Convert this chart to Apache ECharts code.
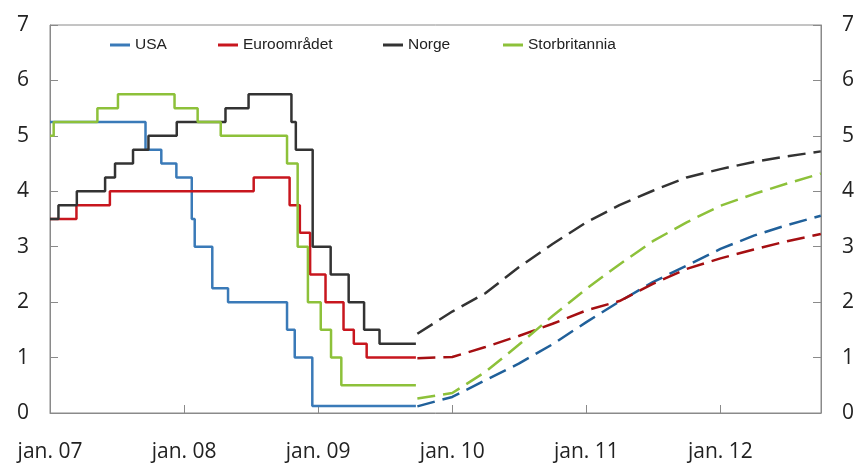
<!DOCTYPE html>
<html>
<head>
<meta charset="utf-8">
<script src="https://cdn.jsdelivr.net/npm/echarts@6/dist/echarts.min.js"></script>
<style>
  html, body { margin: 0; padding: 0; background: #fff; }
  #chart { width: 858px; height: 463px; }
</style>
</head>
<body>
<div id="chart"></div>
<script>
// policy rates, history (date of change, new rate)
const histEnd = '2009-09-24'

const usaDates = ['2007-01-01', '2007-09-18', '2007-10-31', '2007-12-11', '2008-01-22', '2008-01-30',
  '2008-03-18', '2008-04-30', '2008-10-08', '2008-10-29', '2008-12-16']
const usaRates = [5.25, 4.75, 4.5, 4.25, 3.5, 3.0, 2.25, 2.0, 1.5, 1.0, 0.125]

const euroDates = ['2007-01-01', '2007-03-14', '2007-06-13', '2008-07-09', '2008-10-15', '2008-11-12',
  '2008-12-10', '2009-01-21', '2009-03-11', '2009-04-08', '2009-05-13']
const euroRates = [3.5, 3.75, 4.0, 4.25, 3.75, 3.25, 2.5, 2.0, 1.5, 1.25, 1.0]

const norwayDates = ['2007-01-01', '2007-01-24', '2007-03-15', '2007-05-31', '2007-06-27', '2007-08-15',
  '2007-09-26', '2007-12-12', '2008-04-23', '2008-06-25', '2008-10-20', '2008-11-01', '2008-12-17',
  '2009-02-04', '2009-03-25', '2009-05-06', '2009-06-17']
const norwayRates = [3.5, 3.75, 4.0, 4.25, 4.5, 4.75, 5.0, 5.25, 5.5, 5.75, 5.25, 4.75, 3.0,
  2.5, 2.0, 1.5, 1.25]

const ukDates = ['2007-01-01', '2007-01-11', '2007-05-10', '2007-07-05', '2007-12-06', '2008-02-07',
  '2008-04-10', '2008-10-08', '2008-11-06', '2008-12-04', '2009-01-08', '2009-02-05', '2009-03-05']
const ukRates = [5.0, 5.25, 5.5, 5.75, 5.5, 5.25, 5.0, 4.5, 3.0, 2.0, 1.5, 1.0, 0.5]

// forward rates (quarterly)
const fcDates = ['2009-09-28', '2010-01-01', '2010-04-01', '2010-07-01', '2010-10-01', '2011-01-01',
  '2011-04-01', '2011-07-01', '2011-10-01', '2012-01-01', '2012-04-01', '2012-07-01', '2012-10-01']
const usaFc = [0.12, 0.29, 0.59, 0.89, 1.24, 1.64, 2.01, 2.36, 2.66, 2.96, 3.2, 3.39, 3.56]
const euroFc = [0.99, 1.01, 1.19, 1.39, 1.61, 1.85, 2.02, 2.33, 2.6, 2.79, 2.95, 3.1, 3.23]
const norwayFc = [1.43, 1.83, 2.16, 2.63, 3.05, 3.44, 3.75, 4.01, 4.25, 4.4, 4.53, 4.63, 4.72]
const ukFc = [0.26, 0.36, 0.74, 1.23, 1.75, 2.24, 2.68, 3.1, 3.44, 3.74, 3.95, 4.14, 4.32]

const yTicks = [0, 1, 2, 3, 4, 5, 6, 7]

// date string -> decimal year
function toYear(s) {
  const d = new Date(s + 'T00:00:00Z')
  const y = d.getUTCFullYear()
  const a = Date.UTC(y, 0, 1)
  const b = Date.UTC(y + 1, 0, 1)
  return y + (d.getTime() - a) / (b - a)
}

function histData(dates, rates) {
  const out = dates.map((d, i) => [toYear(d), rates[i]])
  out.push([toYear(histEnd), rates[rates.length - 1]])
  return out
}

function fcData(values) {
  return fcDates.map((d, i) => [toYear(d), values[i]])
}

const countries = [
  { name: 'USA', color: '#3a7ab8', fcColor: '#20609a', dates: usaDates, rates: usaRates, fc: usaFc, left: 110 },
  { name: 'Euroområdet', color: '#c8161e', fcColor: '#a50f12', dates: euroDates, rates: euroRates, fc: euroFc, left: 218 },
  { name: 'Norge', color: '#333333', fcColor: '#333333', dates: norwayDates, rates: norwayRates, fc: norwayFc, left: 383 },
  { name: 'Storbritannia', color: '#8dc13a', fcColor: '#8dc13a', dates: ukDates, rates: ukRates, fc: ukFc, left: 503 }
]

const series = []
countries.forEach(c => {
  series.push({
    name: c.name,
    type: 'line',
    step: 'end',
    symbol: 'none',
    data: histData(c.dates, c.rates),
    lineStyle: { color: c.color, width: 2.5 },
    itemStyle: { color: c.color },
    z: 3
  })
  series.push({
    name: c.name + ' fc',
    type: 'line',
    symbol: 'none',
    data: fcData(c.fc),
    lineStyle: { color: c.fcColor, width: 2.5, type: [18, 8] },
    itemStyle: { color: c.fcColor },
    z: 2
  })
})

const tickFont = { fontFamily: '"Open Sans", "Liberation Sans", sans-serif', fontSize: 21, color: '#222' }
const axisGray = '#8a8a8a'

const yAxisBase = {
  type: 'value',
  min: 0,
  max: 7,
  interval: 1,
  splitLine: { show: false },
  axisLine: { show: true, lineStyle: { color: axisGray, width: 1 } },
  axisTick: { show: true, inside: true, length: 8, lineStyle: { color: axisGray } },
  axisLabel: Object.assign({ margin: 21, formatter: v => yTicks.includes(v) ? String(v) : '' }, tickFont)
}

const option = {
  animation: false,
  backgroundColor: '#fff',
  grid: { left: 50, right: 37, top: 25, bottom: 50, show: true, borderColor: axisGray, borderWidth: 1 },
  legend: countries.map(c => ({
    data: [c.name],
    left: c.left,
    top: 37,
    icon: 'rect',
    itemWidth: 20,
    itemHeight: 3,
    itemGap: 0,
    padding: 0,
    textStyle: { fontFamily: '"Liberation Sans", Arial, sans-serif', fontSize: 15.5, color: '#222' }
  })),
  xAxis: {
    type: 'value',
    min: 2007,
    max: 2012.75,
    interval: 1,
    splitLine: { show: false },
    axisLine: { show: true, lineStyle: { color: axisGray, width: 1 } },
    axisTick: { show: true, inside: true, length: 8, lineStyle: { color: axisGray } },
    axisLabel: Object.assign({
      margin: 29,
      showMaxLabel: false,
      formatter: v => Number.isInteger(v) ? 'jan. ' + String(v - 2000).padStart(2, '0') : ''
    }, tickFont)
  },
  yAxis: [
    Object.assign({ position: 'left' }, yAxisBase),
    Object.assign({ position: 'right' }, yAxisBase)
  ],
  series: series
}

const chart = echarts.init(document.getElementById('chart'), null, { renderer: 'canvas' })
chart.setOption(option)
</script>
</body>
</html>
